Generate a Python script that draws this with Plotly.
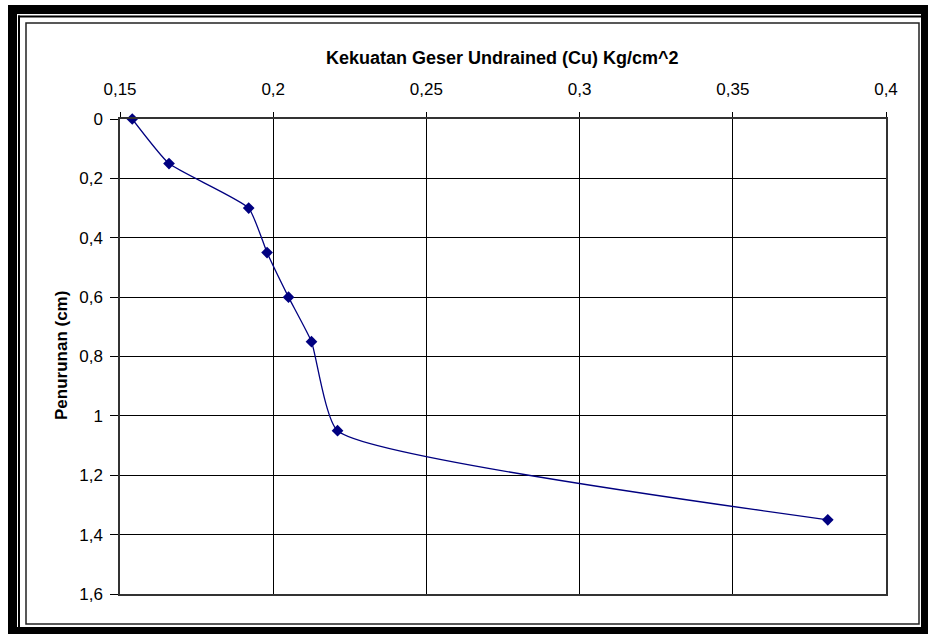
import plotly.graph_objects as go

# Data
cu_values = [0.154, 0.166, 0.192, 0.198, 0.205, 0.2125, 0.221, 0.381]
penurunan = [0.0, 0.15, 0.30, 0.45, 0.60, 0.75, 1.05, 1.35]
x_tickvals = [0.15, 0.2, 0.25, 0.3, 0.35, 0.4]
x_ticktext = ["0,15", "0,2", "0,25", "0,3", "0,35", "0,4"]
y_tickvals = [0, 0.2, 0.4, 0.6, 0.8, 1.0, 1.2, 1.4, 1.6]
y_ticktext = ["0", "0,2", "0,4", "0,6", "0,8", "1", "1,2", "1,4", "1,6"]
x_title = "Kekuatan Geser Undrained (Cu) Kg/cm^2"
y_title = "Penurunan (cm)"

W, H = 932, 636
L, R, T, B = 120, 886, 119, 594

def px(x):
    return (x - L) / (R - L)

def py(y):
    return (B - y) / (B - T)

fig = go.Figure()
fig.add_trace(go.Scatter(
    x=cu_values, y=penurunan, mode="lines+markers",
    line=dict(color="#000080", width=1.3, shape="spline", smoothing=0.45),
    marker=dict(symbol="diamond", size=9, color="#000080"),
    showlegend=False, cliponaxis=False, hoverinfo="skip",
))

font = "Liberation Sans, Arial, sans-serif"

shapes = []
def rect(x0, y0, x1, y1, fill=None, line_color=None, lw=0):
    d = dict(type="rect", xref="paper", yref="paper",
             x0=px(x0), x1=px(x1), y0=py(y1), y1=py(y0), layer="above")
    if fill:
        d["fillcolor"] = fill
    if line_color:
        d["line"] = dict(color=line_color, width=lw)
    else:
        d["line"] = dict(width=0)
    shapes.append(d)

# thick outer frame bands
rect(8, 5, 17, 634, fill="black")
rect(8, 5, 928, 14, fill="black")
rect(921, 5, 928, 634, fill="black")
rect(8, 627, 928, 634, fill="black")
# thin inner line (left/top)
rect(18, 15.5, 20, 627, fill="black")
rect(18, 15.5, 921, 17.5, fill="black")
# chart area frame
rect(26, 23, 919, 624, line_color="#222222", lw=1.5)

annotations = [
    dict(text="<b>" + x_title + "</b>", xref="paper", yref="paper",
         x=px(502), y=py(58), xanchor="center", yanchor="middle", showarrow=False,
         font=dict(size=18, family=font, color="black")),
    dict(text="<b>" + y_title + "</b>", xref="paper", yref="paper",
         x=px(61), y=py(356), xanchor="center", yanchor="middle", showarrow=False,
         textangle=-90, font=dict(size=17, family=font, color="black")),
]

fig.update_layout(
    width=W, height=H,
    margin=dict(l=L, r=W - R, t=T, b=H - B),
    paper_bgcolor="white", plot_bgcolor="white",
    shapes=shapes, annotations=annotations,
    font=dict(family=font, size=17, color="black"),
    xaxis=dict(
        side="top", range=[0.15, 0.4], tickvals=x_tickvals, ticktext=x_ticktext,
        showgrid=True, gridcolor="black", gridwidth=1,
        showline=True, linecolor="#333333", linewidth=1.5, mirror=True,
        ticks="outside", ticklen=5, tickcolor="black",
        ticklabelstandoff=10,
        zeroline=False,
        tickfont=dict(size=17, family=font),
    ),
    yaxis=dict(
        range=[1.6, 0], tickvals=y_tickvals, ticktext=y_ticktext,
        showgrid=True, gridcolor="black", gridwidth=1,
        showline=True, linecolor="#333333", linewidth=1.5, mirror=True,
        ticks="outside", ticklen=8, tickcolor="black",
        ticklabelstandoff=4,
        zeroline=False,
        tickfont=dict(size=17, family=font),
    ),
)

fig.write_html("out.html", config={"displayModeBar": False},
               post_script="document.body.style.margin='0';document.body.style.overflow='hidden';")
